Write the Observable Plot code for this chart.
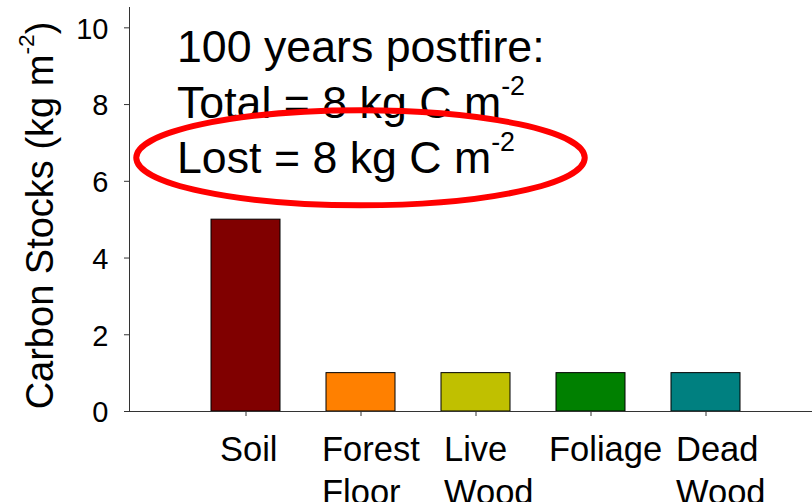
<!DOCTYPE html>
<html><head><meta charset="utf-8">
<script src="https://cdn.jsdelivr.net/npm/d3@7"></script>
<script src="https://cdn.jsdelivr.net/npm/@observablehq/plot@0.6"></script>
<style>body{margin:0;background:#fff} #chart svg{display:block}</style>
</head><body><div id="chart"></div>
<script>
const categories = ["Soil", "Forest Floor", "Live Wood", "Foliage", "Dead Wood"];
const stocks = [5, 1, 1, 1, 1];
const barColors = ["#800000", "#FF8000", "#C0C000", "#008000", "#008080"];
const tickLabels = ["Soil", "Forest\nFloor", "Live\nWood", "Foliage", "Dead\nWood"];
const yTicks = [0, 2, 4, 6, 8, 10];
const yLabel = "Carbon Stocks (kg m^{-2})";
const annotationLines = ["100 years postfire:", "Total = 8 kg C m^{-2}", "Lost = 8 kg C m^{-2}"];

const FONT = '"Liberation Sans", Arial, Helvetica, sans-serif';
const data = categories.map((c, i) => ({category: c, value: stocks[i], label: tickLabels[i]}));

// layout: left offset of each (left-aligned) category label from its tick
const labelOffset = {"Soil": -26, "Forest Floor": -39, "Live Wood": -32, "Foliage": -42, "Dead Wood": -30};
const labelMarks = data.map(d => Plot.text([d], {
  x: "category", text: "label", frameAnchor: "bottom", lineAnchor: "top", textAnchor: "start",
  dy: 19, dx: labelOffset[d.category], fontSize: 34.5, lineHeight: 1.24
}));

const plot = Plot.plot({
  width: 812, height: 502,
  marginTop: 7, marginBottom: 91, marginLeft: 129, marginRight: 0,
  style: {fontFamily: FONT, color: "black", background: "white", overflow: "visible"},
  x: {type: "band", domain: categories, range: [187.5, 762.5], paddingInner: 0.4, paddingOuter: 0.2, axis: null, label: null},
  y: {domain: [0, 10.53], axis: null, label: null},
  color: {domain: categories, range: barColors},
  marks: [
    Plot.barY(data, {x: "category", y: "value", fill: "category", stroke: "black", strokeWidth: 1}),
    Plot.frame({anchor: "left", stroke: "#333"}),
    Plot.ruleY([0], {stroke: "#333"}),
    Plot.axisY(yTicks, {tickSize: 5, stroke: "#333", label: null, tickFormat: () => ""}),
    Plot.text(yTicks, {y: d => d, text: d => String(d), frameAnchor: "left", textAnchor: "end", dx: -21, dy: 1.5, fontSize: 29}),
    Plot.axisX(categories, {tickSize: 5, stroke: "#333", label: null, tickFormat: () => ""}),
    ...labelMarks,
    Plot.text([yLabel], {frameAnchor: "left", textAnchor: "middle", rotate: -90, dx: -89, dy: 6, fontSize: 38, text: d => d}),
    Plot.text(annotationLines, {x: () => "Soil", y: (d, i) => 9.48 - i * 1.45, dx: -69, textAnchor: "start", fontSize: 44.7, text: d => d})
  ]
});
document.getElementById("chart").appendChild(plot);

// superscripts
d3.select(plot).selectAll("text").each(function() {
  const raw = this.textContent;
  if (!raw.includes("^{")) return;
  const fs = parseFloat(getComputedStyle(this).fontSize);
  const parts = raw.split(/\^\{([^}]*)\}/);
  const sel = d3.select(this);
  sel.text(null);
  const shift = fs * 0.5;
  parts.forEach((p, i) => {
    if (!p) return;
    const ts = sel.append("tspan").text(p);
    if (i % 2 === 1) ts.attr("font-size", fs * 0.6).attr("dy", -shift);
    else if (i > 0) ts.attr("dy", shift);
  });
});

// red ellipse around "Lost" line
const sx = plot.scale("x"), sy = plot.scale("y");
const step = sx.step || (sx.apply(categories[1]) - sx.apply(categories[0]));
const bw = sx.bandwidth || 0;
const cx = sx.apply("Forest Floor") + bw / 2;
const cy = sy.apply(6.6);
d3.select(plot).append("ellipse")
  .attr("cx", cx).attr("cy", cy)
  .attr("rx", 1.95 * step).attr("ry", sy.apply(0) - sy.apply(1.24))
  .attr("fill", "none").attr("stroke", "#FF0000").attr("stroke-width", 6);
</script>
</body></html>
